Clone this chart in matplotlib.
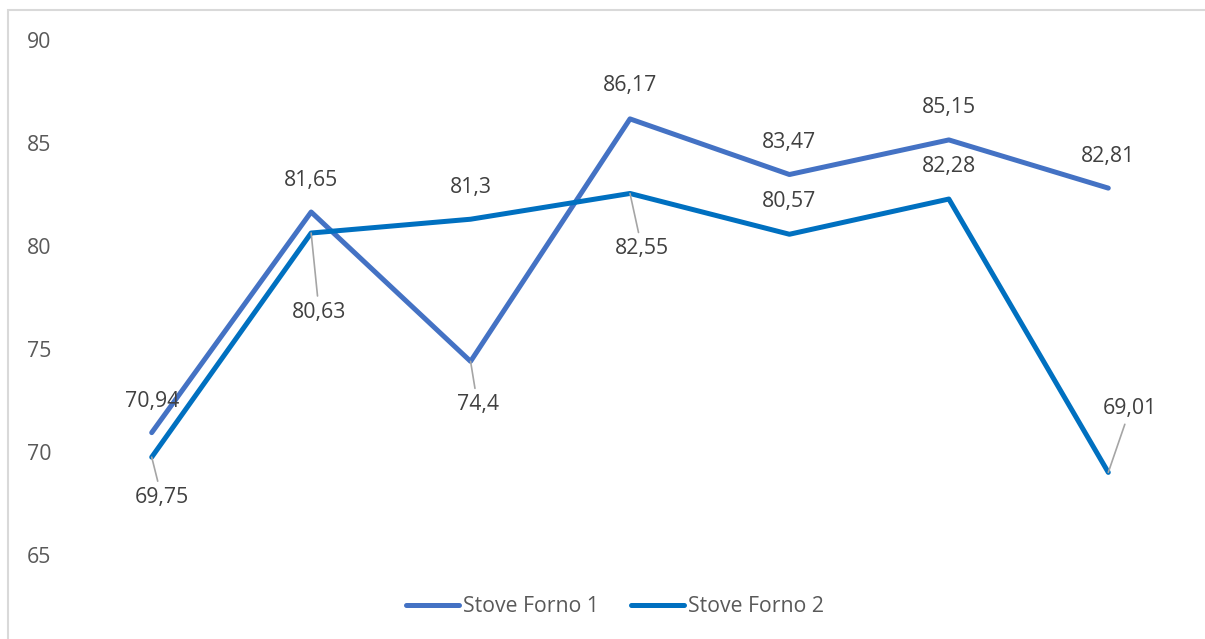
import matplotlib
matplotlib.use("Agg")
import matplotlib.pyplot as plt
from matplotlib.patches import Rectangle

plt.rcParams["font.family"] = ["Open Sans", "DejaVu Sans"]

# data
categories = ["1", "2", "3", "4", "5", "6", "7"]
forno1 = [70.94, 81.65, 74.4, 86.17, 83.47, 85.15, 82.81]
forno2 = [69.75, 80.63, 81.3, 82.55, 80.57, 82.28, 69.01]
labels1 = ["70,94", "81,65", "74,4", "86,17", "83,47", "85,15", "82,81"]
labels2 = ["69,75", "80,63", "81,3", "82,55", "80,57", "82,28", "69,01"]
yticks = [65, 70, 75, 80, 85, 90]

# label offsets in pixels (dx, dy), and whether Excel drew a leader line
off1 = [(0, 31), (0, 32), (7, -43), (0, 33), (0, 32), (0, 32), (0, 32)]
lead1 = [False, False, True, False, False, False, False]
off2 = [(10, -40), (8, -79), (0, 32), (12, -55), (0, 33), (0, 33), (22, 64)]
lead2 = [True, True, False, True, False, False, True]

C1 = "#4472C4"
C2 = "#0070C0"
LABEL = "#404040"
TICK = "#595959"
FS = 15.3

fig = plt.figure(figsize=(12.05, 6.39), dpi=100)
ax = fig.add_axes([72 / 1205, 1 - 555 / 639, (1188 - 72) / 1205, (555 - 40) / 639])

x = list(range(len(categories)))
ax.plot(x, forno1, color=C1, lw=3.6, solid_capstyle="round",
        solid_joinstyle="round", label="Stove Forno 1", zorder=3)
ax.plot(x, forno2, color=C2, lw=3.6, solid_capstyle="round",
        solid_joinstyle="round", label="Stove Forno 2", zorder=3)

for vals, labs, offs, leads in [(forno1, labels1, off1, lead1),
                                (forno2, labels2, off2, lead2)]:
    for xi, v, lab, (dx, dy), ld in zip(x, vals, labs, offs, leads):
        arrow = dict(arrowstyle="-", color="#A5A5A5", lw=1.2,
                     shrinkA=2, shrinkB=0) if ld else None
        ax.annotate(lab, (xi, v), xytext=(dx, dy), textcoords="offset pixels",
                    ha="center", va="center", fontsize=FS, color=LABEL,
                    arrowprops=arrow, zorder=4)

ax.set_xlim(-0.5, len(categories) - 0.5)
ax.set_ylim(65, 90)
ax.set_yticks(yticks)
ax.set_xticks([])
ax.tick_params(axis="y", length=0, pad=15, labelsize=FS, labelcolor=TICK)
for s in ax.spines.values():
    s.set_visible(False)

fig.legend(loc="center", bbox_to_anchor=(615 / 1205, 1 - 607 / 639),
           ncol=2, frameon=False, fontsize=FS, labelcolor=TICK,
           handlelength=2.5, handletextpad=0.2, columnspacing=1.5)

# chart-area border (cropped on right and bottom in the reference)
fig.add_artist(Rectangle((8 / 1205, -0.1), 1.2, 1.1 - 10 / 639,
                         transform=fig.transFigure, fill=False,
                         edgecolor="#D9D9D9", lw=1.5, clip_on=False))

fig.savefig("out.png", dpi=100)
